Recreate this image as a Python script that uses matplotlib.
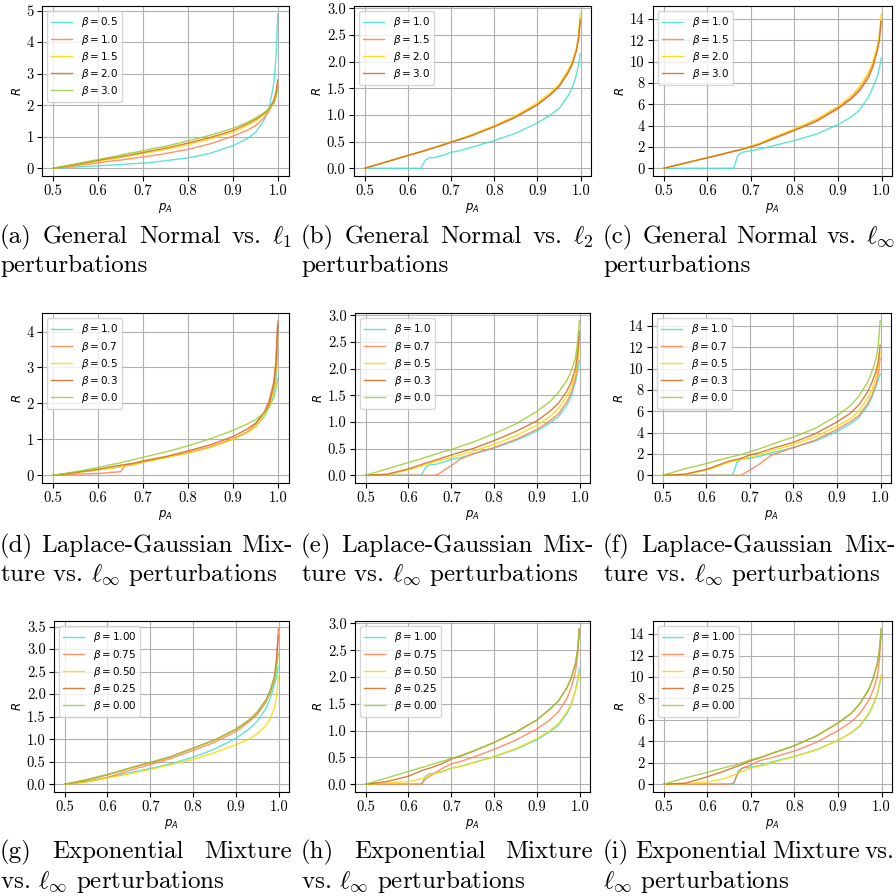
import numpy as np
import matplotlib
matplotlib.use('Agg')
import matplotlib.pyplot as plt
from matplotlib.ticker import MultipleLocator

# shared p_A grid the curves were read at
P_A = [0.5, 0.55, 0.6, 0.63, 0.64, 0.65, 0.66, 0.67, 0.68, 0.7, 0.72, 0.75,
       0.8, 0.85, 0.9, 0.93, 0.95, 0.97, 0.98, 0.99, 0.995, 0.999]

# (a) general normal vs l1
A_LABELS = ['0.5', '1.0', '1.5', '2.0', '3.0']
A_R = [
    [0, .04, .08, .1, .11, .12, .13, .14, .15, .16, .19, .24, .33, .48, .72, .93, 1.14, 1.56, 1.93, 2.67, 3.5, 4.9],
    [0, .08, .17, .23, .25, .26, .28, .3, .32, .36, .4, .47, .6, .78, 1.02, 1.2, 1.35, 1.62, 1.82, 2.1, 2.35, 2.6],
    [0, .1, .22, .29, .31, .34, .36, .39, .41, .47, .52, .6, .75, .93, 1.15, 1.35, 1.5, 1.72, 1.88, 2.1, 2.35, 2.7],
    [0, .12, .25, .33, .35, .37, .4, .42, .45, .5, .56, .64, .8, .98, 1.2, 1.4, 1.55, 1.75, 1.9, 2.15, 2.4, 2.8],
    [0, .14, .28, .36, .39, .42, .45, .48, .5, .56, .62, .7, .87, 1.05, 1.27, 1.45, 1.6, 1.78, 1.9, 2.05, 2.25, 2.5],
]
# (b) general normal vs l2
B_LABELS = ['1.0', '1.5', '2.0', '3.0']
B_R = [
    [0, 0, 0, 0, .15, .2, .2, .22, .24, .3, .33, .4, .52, .66, .85, 1.0, 1.12, 1.35, 1.5, 1.75, 1.95, 2.15],
    [0, .12, .24, .31, .34, .36, .39, .41, .44, .49, .54, .63, .79, .97, 1.2, 1.39, 1.55, 1.8, 1.96, 2.22, 2.45, 2.8],
    [0, .12, .24, .31, .34, .37, .39, .42, .44, .5, .55, .64, .8, .99, 1.23, 1.42, 1.58, 1.83, 2.0, 2.25, 2.5, 2.9],
    [0, .12, .24, .31, .33, .36, .38, .41, .43, .49, .54, .62, .78, .96, 1.19, 1.38, 1.53, 1.78, 1.94, 2.2, 2.42, 2.78],
]
# (c) general normal vs linf
C_LABELS = ['1.0', '1.5', '2.0', '3.0']
C_R = [
    [0, 0, 0, 0, 0, 0, 0, 1.2, 1.5, 1.65, 1.8, 2.1, 2.6, 3.2, 4.1, 4.8, 5.5, 6.7, 7.6, 8.6, 9.4, 10.3],
    [0, .5, 1.0, 1.3, 1.4, 1.5, 1.6, 1.7, 1.8, 2.05, 2.3, 2.8, 3.6, 4.5, 5.7, 6.6, 7.5, 8.8, 9.8, 11.2, 12.3, 13.8],
    [0, .5, 1.0, 1.3, 1.4, 1.5, 1.6, 1.7, 1.8, 2.1, 2.35, 2.9, 3.7, 4.6, 5.8, 6.8, 7.7, 9.0, 10.0, 11.4, 12.6, 14.5],
    [0, .5, .98, 1.28, 1.38, 1.48, 1.58, 1.68, 1.78, 2.0, 2.25, 2.75, 3.55, 4.4, 5.6, 6.5, 7.3, 8.5, 9.5, 11.0, 12.0, 13.8],
]
# (d)-(f) laplace-gaussian mixture
MIX_LABELS = ['1.0', '0.7', '0.5', '0.3', '0.0']
D_R = [
    [0, .07, .15, .2, .22, .24, .26, .28, .3, .37, .42, .5, .62, .78, 1.0, 1.18, 1.35, 1.65, 1.9, 2.3, 2.7, 3.5],
    [0, .03, .05, .08, .09, .1, .28, .3, .31, .38, .43, .5, .64, .8, 1.02, 1.2, 1.42, 1.8, 2.1, 2.6, 3.2, 4.3],
    [0, .07, .15, .2, .22, .24, .26, .28, .3, .36, .41, .49, .62, .78, 1.0, 1.18, 1.36, 1.68, 1.95, 2.4, 2.9, 3.8],
    [0, .08, .17, .24, .26, .28, .3, .32, .34, .4, .45, .52, .68, .85, 1.08, 1.28, 1.45, 1.75, 2.0, 2.5, 3.1, 4.2],
    [0, .1, .22, .3, .32, .35, .38, .41, .44, .5, .56, .65, .82, 1.02, 1.25, 1.42, 1.55, 1.75, 1.9, 2.15, 2.4, 2.7],
]
E_R = [
    [0, 0, 0, 0, .15, .2, .2, .22, .24, .3, .33, .4, .51, .65, .83, .98, 1.1, 1.32, 1.48, 1.75, 1.95, 2.15],
    [0, 0, 0, 0, 0, 0, 0, .02, .08, .18, .3, .4, .52, .67, .86, 1.02, 1.15, 1.38, 1.55, 1.82, 2.1, 2.6],
    [0, .01, .1, .17, .2, .22, .25, .27, .29, .33, .38, .45, .58, .74, .94, 1.1, 1.25, 1.48, 1.65, 1.9, 2.15, 2.5],
    [0, .02, .12, .2, .23, .25, .28, .3, .33, .38, .43, .5, .65, .82, 1.02, 1.2, 1.35, 1.58, 1.75, 2.0, 2.3, 2.7],
    [0, .12, .24, .31, .34, .36, .39, .41, .44, .48, .54, .62, .78, .96, 1.2, 1.38, 1.55, 1.78, 1.95, 2.2, 2.5, 2.9],
]
F_R = [
    [0, 0, 0, 0, 0, 0, 0, 1.2, 1.5, 1.6, 1.75, 2.1, 2.6, 3.2, 4.1, 4.8, 5.4, 6.5, 7.3, 8.4, 9.0, 9.5],
    [0, 0, 0, 0, 0, 0, 0, 0, 0, .5, 1.0, 1.9, 2.6, 3.3, 4.3, 5.0, 5.6, 6.7, 7.5, 8.6, 9.6, 11.0],
    [0, .05, .5, .9, 1.05, 1.2, 1.3, 1.4, 1.5, 1.7, 1.9, 2.3, 2.9, 3.6, 4.6, 5.3, 6.0, 7.2, 8.0, 9.2, 10.2, 11.5],
    [0, .1, .55, 1.0, 1.15, 1.3, 1.4, 1.5, 1.6, 1.9, 2.1, 2.5, 3.1, 3.9, 5.0, 5.8, 6.6, 7.8, 8.7, 9.8, 10.8, 12.2],
    [0, .6, 1.1, 1.45, 1.55, 1.65, 1.75, 1.85, 1.95, 2.2, 2.45, 2.9, 3.6, 4.4, 5.6, 6.5, 7.4, 8.7, 9.7, 11.0, 12.3, 14.5],
]
# (g)-(i) exponential mixture
EXP_LABELS = ['1.00', '0.75', '0.50', '0.25', '0.00']
G_R = [
    [0, .06, .15, .21, .23, .25, .27, .29, .31, .35, .39, .46, .6, .78, 1.02, 1.22, 1.4, 1.68, 1.9, 2.2, 2.4, 2.6],
    [0, .05, .15, .24, .27, .3, .33, .36, .38, .44, .49, .58, .75, .93, 1.17, 1.38, 1.55, 1.82, 2.02, 2.3, 2.7, 3.45],
    [0, .05, .14, .19, .21, .23, .25, .27, .29, .33, .37, .44, .55, .7, .88, 1.0, 1.12, 1.3, 1.45, 1.7, 1.95, 2.4],
    [0, .09, .21, .29, .32, .35, .38, .4, .43, .48, .53, .62, .8, .98, 1.22, 1.42, 1.6, 1.87, 2.08, 2.4, 2.8, 3.3],
    [0, .1, .22, .3, .33, .35, .38, .41, .44, .48, .54, .62, .8, .98, 1.22, 1.42, 1.6, 1.85, 2.05, 2.35, 2.6, 2.9],
]
H_R = [
    [0, 0, 0, 0, .15, .2, .2, .22, .24, .3, .33, .4, .51, .65, .83, .98, 1.1, 1.32, 1.48, 1.75, 1.95, 2.15],
    [0, 0, 0, 0, .1, .15, .2, .25, .3, .38, .42, .5, .65, .82, 1.03, 1.2, 1.35, 1.6, 1.8, 2.1, 2.4, 2.9],
    [0, .02, .05, .1, .13, .18, .2, .22, .24, .3, .33, .4, .52, .66, .85, 1.0, 1.13, 1.35, 1.5, 1.75, 1.9, 2.1],
    [0, .05, .15, .25, .28, .3, .33, .36, .39, .47, .52, .61, .78, .97, 1.2, 1.4, 1.55, 1.8, 1.98, 2.25, 2.5, 2.9],
    [0, .12, .24, .31, .33, .36, .38, .41, .43, .48, .53, .62, .78, .97, 1.2, 1.4, 1.55, 1.8, 1.98, 2.25, 2.5, 2.9],
]
I_R = [
    [0, 0, 0, 0, 0, 0, 0, 1.2, 1.5, 1.6, 1.75, 2.1, 2.6, 3.2, 4.1, 4.8, 5.4, 6.5, 7.3, 8.4, 9.2, 10.0],
    [0, 0, 0, 0, 0, 0, .1, 1.0, 1.5, 1.8, 2.2, 2.5, 3.1, 3.9, 5.0, 5.8, 6.6, 7.8, 8.7, 10.0, 11.5, 14.5],
    [0, .05, .2, .45, .55, .7, .85, 1.0, 1.2, 1.5, 1.7, 2.0, 2.6, 3.2, 4.1, 4.8, 5.5, 6.6, 7.4, 8.5, 9.3, 10.2],
    [0, .1, .7, 1.1, 1.25, 1.4, 1.55, 1.7, 1.85, 2.2, 2.45, 2.9, 3.6, 4.5, 5.7, 6.6, 7.5, 8.8, 9.8, 11.2, 12.5, 14.0],
    [0, .6, 1.1, 1.45, 1.55, 1.65, 1.75, 1.85, 2.0, 2.3, 2.5, 2.9, 3.6, 4.5, 5.7, 6.6, 7.5, 8.8, 9.8, 11.2, 12.5, 14.5],
]

# y tick step of each panel, a..i
Y_STEPS = [1, 0.5, 2, 1, 0.5, 2, 0.5, 0.5, 2]

CAPTIONS = [
    ['(a) General Normal vs. $\\ell_1$', 'perturbations'],
    ['(b) General Normal vs. $\\ell_2$', 'perturbations'],
    ['(c) General Normal vs. $\\ell_\\infty$', 'perturbations'],
    ['(d) Laplace-Gaussian Mix-', 'ture vs. $\\ell_\\infty$ perturbations'],
    ['(e) Laplace-Gaussian Mix-', 'ture vs. $\\ell_\\infty$ perturbations'],
    ['(f) Laplace-Gaussian Mix-', 'ture vs. $\\ell_\\infty$ perturbations'],
    ['(g) Exponential Mixture', 'vs. $\\ell_\\infty$ perturbations'],
    ['(h) Exponential Mixture', 'vs. $\\ell_\\infty$ perturbations'],
    ['(i) Exponential Mixture vs.', '$\\ell_\\infty$ perturbations'],
]

COLORS = ['turquoise', 'coral', 'gold', 'chocolate', 'yellowgreen']

W = 896
fig = plt.figure(figsize=(W / 100, W / 100), dpi=100)


def add_axes_px(left, top, right, bottom):
    return fig.add_axes([left / W, 1 - bottom / W, (right - left) / W, (bottom - top) / W])


# axes boxes in pixels (left, top, right, bottom)
boxes = [
    (42, 6, 289, 176), (354, 6, 591, 176), (653, 6, 892, 176),
    (42, 313, 289, 483), (355, 313, 590, 483), (652, 313, 891, 483),
    (54, 621, 289, 792), (355, 621, 590, 792), (653, 621, 892, 792),
]
panels = [(A_R, A_LABELS), (B_R, B_LABELS), (C_R, C_LABELS),
          (D_R, MIX_LABELS), (E_R, MIX_LABELS), (F_R, MIX_LABELS),
          (G_R, EXP_LABELS), (H_R, EXP_LABELS), (I_R, EXP_LABELS)]

for box, (series, labels), step in zip(boxes, panels, Y_STEPS):
    ax = add_axes_px(*box)
    for r, lab, c in zip(series, labels, COLORS):
        ax.plot(P_A, r, color=c, lw=1.0, alpha=0.85, label=f'$\\beta = {lab}$')
    ax.grid(True, color='#b0b0b0', lw=0.8)
    ax.set_axisbelow(True)
    ax.set_xticks([0.5, 0.6, 0.7, 0.8, 0.9, 1.0])
    ax.yaxis.set_major_locator(MultipleLocator(step))
    ax.tick_params(labelsize=10.5, labelfontfamily='cmr10', width=0.8, length=3.5, pad=2.5)
    ax.set_xlabel('$p_A$', fontsize=8.5, labelpad=2)
    ax.set_ylabel('$R$', fontsize=8.5, labelpad=2)
    for s in ax.spines.values():
        s.set_linewidth(0.8)
    ax.legend(loc='upper left', fontsize=7.5, labelspacing=0.3, handlelength=2.0,
              borderpad=0.4, framealpha=0.8)

# captions, first line justified to the column width
renderer = fig.canvas.get_renderer()
col_x = [0, 301, 603]
row_y = [(237, 266), (546, 575), (852, 881)]
col_w = 292
cap_size = 18
for k, (line1, line2) in enumerate(CAPTIONS):
    x0 = col_x[k % 3]
    y1, y2 = row_y[k // 3]
    words = line1.split(' ')
    texts = [fig.text(0, 1 - y1 / W, w, fontsize=cap_size, family='cmr10',
                      math_fontfamily='cm', va='center') for w in words]
    widths = [t.get_window_extent(renderer).width for t in texts]
    gap = (col_w - sum(widths)) / (len(words) - 1)
    x = x0
    for t, wd in zip(texts, widths):
        t.set_x(x / W)
        x += wd + gap
    fig.text(x0 / W, 1 - y2 / W, line2, fontsize=cap_size, family='cmr10',
             math_fontfamily='cm', va='center')

fig.savefig('out.png', dpi=100)
